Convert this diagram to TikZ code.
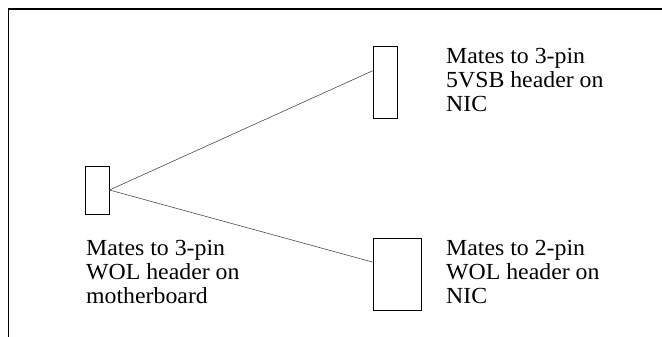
\documentclass[tikz,border=0pt]{standalone}
\usepackage{fontspec}
\setmainfont{Liberation Serif}
\newfontfamily\notefont[FakeStretch=1.035]{Liberation Serif}
\usetikzlibrary{positioning}

\begin{document}
\begin{tikzpicture}[x=1pt, y=-1pt,
  header/.style={rectangle, draw=black, line width=1pt, inner sep=0pt,
    minimum width=24pt, minimum height=72pt},
  note/.style={anchor=north west, align=left, inner sep=0pt,
    font=\notefont\fontsize{23}{23.8}\selectfont},
  wire/.style={black!70, line width=0.6pt}
]
\useasboundingbox (0,0) rectangle (662,337);
% outer frame, cut off at right and bottom
\draw[line width=1.8pt] (662,9) -- (8.5,9) -- (8.5,337);
\node[header, minimum height=48pt] (mb) at (97,190) {};
\node[header] (vsb) at (385.3,82.2) {};
\node[header, minimum width=48pt] (wol) at (397.5,274.2) {};
\node[note] (vsbnote) at (446,48.4) {Mates to 3-pin\\5VSB header on\\NIC};
\node[note] (wolnote) at (446,240.4) {Mates to 2-pin\\WOL header on\\NIC};
\node[note] (mbnote) at (86,240.4) {Mates to 3-pin\\WOL header on\\motherboard};
\draw[wire] (mb.east) -- ([yshift=11.5pt]vsb.west);
\draw[wire] (mb.east) -- ([yshift=12pt]wol.west);
\end{tikzpicture}
\end{document}
